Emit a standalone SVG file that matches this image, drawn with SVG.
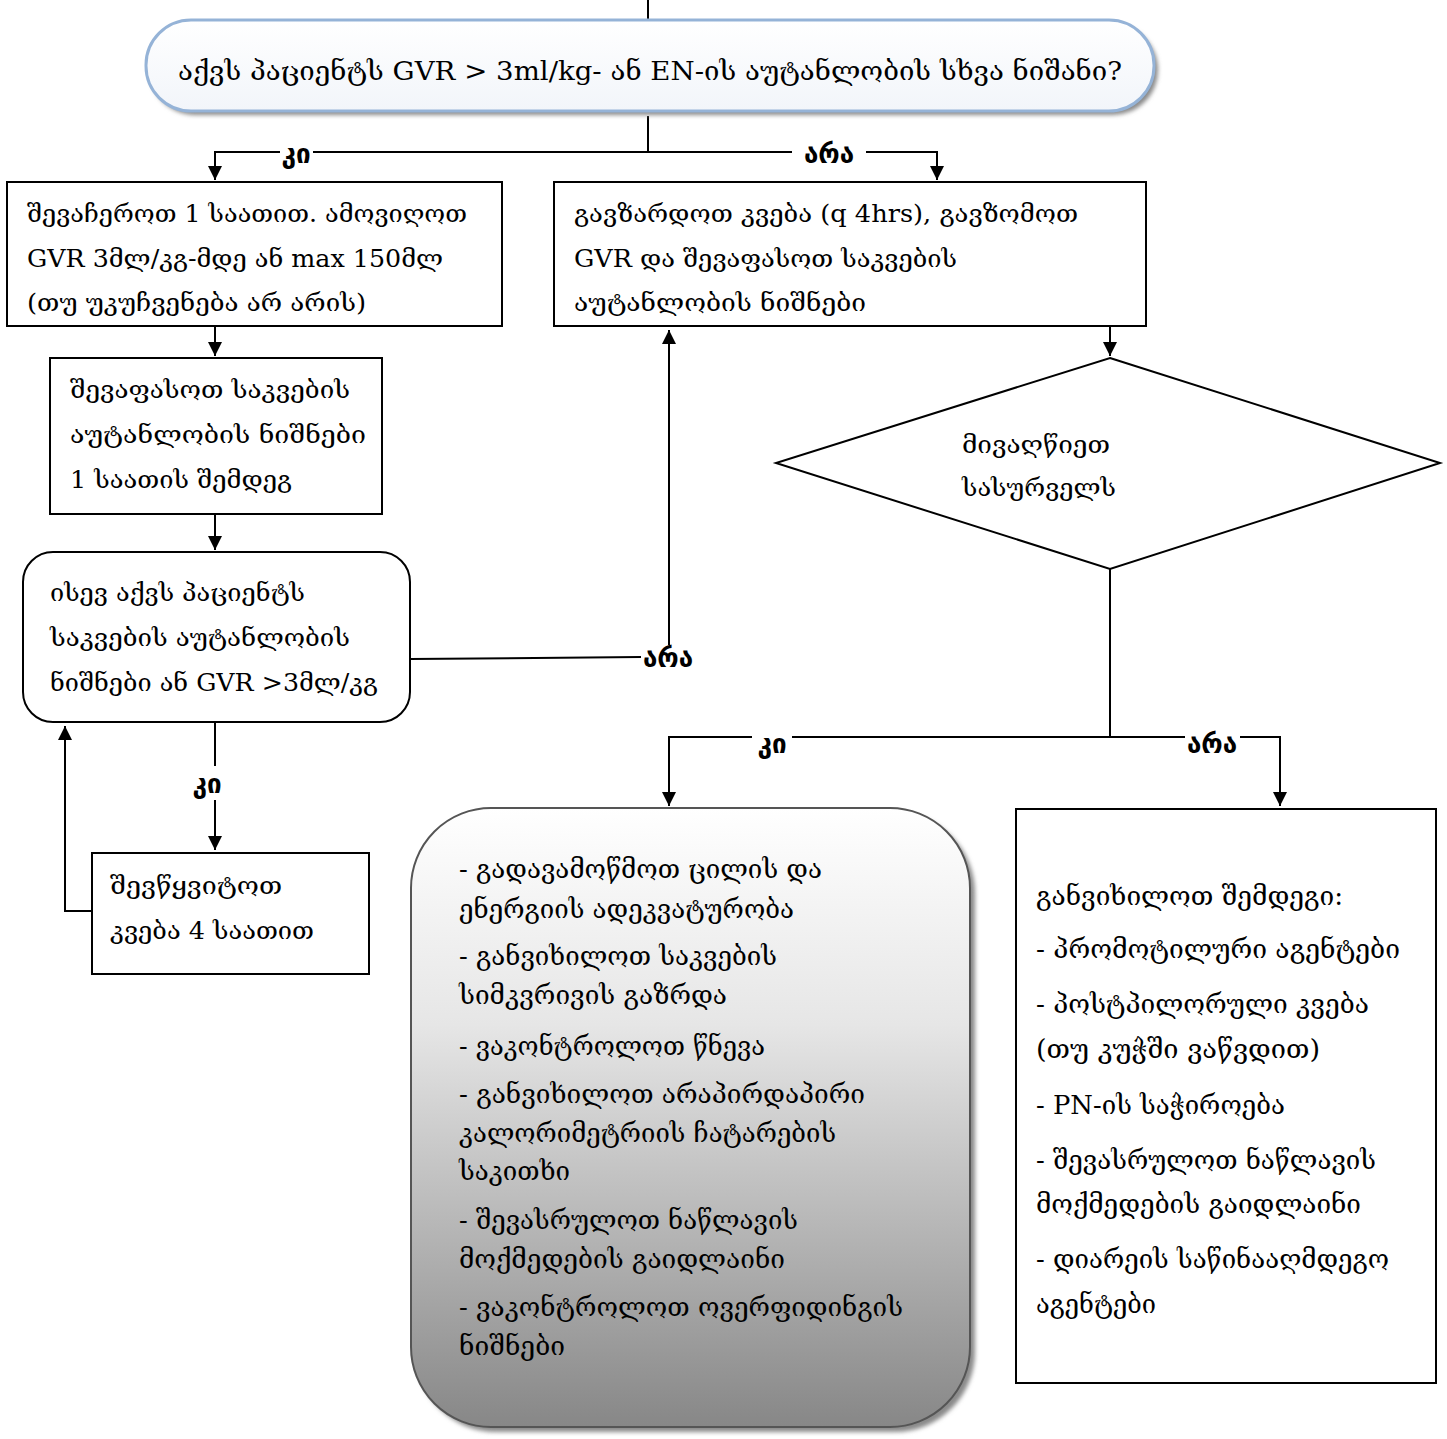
<svg xmlns="http://www.w3.org/2000/svg" width="1447" height="1439" viewBox="0 0 1447 1439">
<style>
.t{font-family:"DejaVu Serif","Liberation Serif",serif;font-size:24px;fill:#000}
.tb{font-family:"DejaVu Serif","Liberation Serif",serif;font-size:26px;fill:#000}
.lbl{font-family:"DejaVu Sans","Liberation Sans",sans-serif;font-size:26px;font-weight:bold;fill:#000}
.box{fill:#fff;stroke:#000;stroke-width:2}
.c{fill:none;stroke:#000;stroke-width:2}
</style>
<defs>
<marker id="ah" markerUnits="userSpaceOnUse" markerWidth="16" markerHeight="16" refX="14" refY="7" orient="auto">
<path d="M0,0 L14,7 L0,14 Z" fill="#000"/>
</marker>
<linearGradient id="g6" x1="0" y1="0" x2="0" y2="1">
<stop offset="0" stop-color="#ffffff"/>
<stop offset="0.35" stop-color="#e6e6e6"/>
<stop offset="1" stop-color="#878787"/>
</linearGradient>
<linearGradient id="gt" x1="0" y1="0" x2="0" y2="1">
<stop offset="0" stop-color="#ffffff"/>
<stop offset="1" stop-color="#f2f5fa"/>
</linearGradient>
<filter id="sh" x="-5%" y="-5%" width="110%" height="115%">
<feGaussianBlur stdDeviation="2"/>
</filter>
</defs>

<g id="connectors">
<path class="c" d="M648,0 V20"/>
<path class="c" d="M648,116 V152"/>
<path class="c" d="M280,152 H215 V180" marker-end="url(#ah)"/>
<path class="c" d="M313,152 H792"/>
<path class="c" d="M866,152 H937 V180" marker-end="url(#ah)"/>
<path class="c" d="M215,326 V356" marker-end="url(#ah)"/>
<path class="c" d="M215,514 V550" marker-end="url(#ah)"/>
<path class="c" d="M410,659 L641,657"/>
<path class="c" d="M669,645 V330" marker-end="url(#ah)"/>
<path class="c" d="M215,722 V766"/>
<path class="c" d="M215,800 V850" marker-end="url(#ah)"/>
<path class="c" d="M92,911 H65 V726" marker-end="url(#ah)"/>
<path class="c" d="M1110,326 V356" marker-end="url(#ah)"/>
<path class="c" d="M1110,568 V737"/>
<path class="c" d="M1110,737 H792"/>
<path class="c" d="M752,737 H669 V806" marker-end="url(#ah)"/>
<path class="c" d="M1110,737 H1185"/>
<path class="c" d="M1240,737 H1280 V806" marker-end="url(#ah)"/>
<text class="lbl" x="296" y="163" text-anchor="middle">კი</text>
<text class="lbl" x="829" y="163" text-anchor="middle">არა</text>
<text class="lbl" x="668" y="667" text-anchor="middle">არა</text>
<text class="lbl" x="207" y="793" text-anchor="middle">კი</text>
<text class="lbl" x="772" y="753" text-anchor="middle">კი</text>
<text class="lbl" x="1212" y="753" text-anchor="middle">არა</text>
</g>

<g id="start">
<rect x="150" y="25" width="1008" height="90" rx="45" fill="#8a8a8a" filter="url(#sh)"/>
<rect x="146" y="20" width="1008" height="91" rx="45" fill="url(#gt)" stroke="#95b3d7" stroke-width="3"/>
<text class="tb" x="178" y="80" textLength="944" lengthAdjust="spacingAndGlyphs" font-size="28">აქვს პაციენტს GVR &gt; 3ml/kg- ან EN-ის აუტანლობის სხვა ნიშანი?</text>
</g>

<g id="stop1h">
<rect class="box" x="7" y="182" width="495" height="144"/>
<text class="t" x="27" y="222" textLength="440" lengthAdjust="spacingAndGlyphs">შევაჩეროთ 1 საათით. ამოვიღოთ</text>
<text class="t" x="27" y="267" textLength="416" lengthAdjust="spacingAndGlyphs">GVR 3მლ/კგ-მდე ან max 150მლ</text>
<text class="t" x="27" y="311" textLength="339" lengthAdjust="spacingAndGlyphs">(თუ უკუჩვენება არ არის)</text>
</g>

<g id="increase">
<rect class="box" x="554" y="182" width="592" height="144"/>
<text class="t" x="574" y="222" textLength="504" lengthAdjust="spacingAndGlyphs">გავზარდოთ კვება (q 4hrs), გავზომოთ</text>
<text class="t" x="574" y="267" textLength="383" lengthAdjust="spacingAndGlyphs">GVR და შევაფასოთ საკვების</text>
<text class="t" x="574" y="311" textLength="292" lengthAdjust="spacingAndGlyphs">აუტანლობის ნიშნები</text>
</g>

<g id="assess">
<rect class="box" x="50" y="358" width="332" height="156"/>
<text class="t" x="70" y="398" textLength="280" lengthAdjust="spacingAndGlyphs">შევაფასოთ საკვების</text>
<text class="t" x="70" y="443" textLength="296" lengthAdjust="spacingAndGlyphs">აუტანლობის ნიშნები</text>
<text class="t" x="70" y="488" textLength="222" lengthAdjust="spacingAndGlyphs">1 საათის შემდეგ</text>
</g>

<g id="still">
<rect class="box" x="23" y="552" width="387" height="170" rx="30"/>
<text class="t" x="50" y="601" textLength="255" lengthAdjust="spacingAndGlyphs">ისევ აქვს პაციენტს</text>
<text class="t" x="50" y="646" textLength="300" lengthAdjust="spacingAndGlyphs">საკვების აუტანლობის</text>
<text class="t" x="50" y="691" textLength="328" lengthAdjust="spacingAndGlyphs">ნიშნები ან GVR &gt;3მლ/კგ</text>
</g>

<g id="stop4h">
<rect class="box" x="92" y="853" width="277" height="121"/>
<text class="t" x="110" y="894" textLength="172" lengthAdjust="spacingAndGlyphs">შევწყვიტოთ</text>
<text class="t" x="110" y="939" textLength="204" lengthAdjust="spacingAndGlyphs">კვება 4 საათით</text>
</g>

<g id="goal">
<path class="box" d="M1110,358 L1440,463 L1110,569 L776,463 Z"/>
<text class="t" x="962" y="453" textLength="148" lengthAdjust="spacingAndGlyphs">მივაღწიეთ</text>
<text class="t" x="962" y="496" textLength="154" lengthAdjust="spacingAndGlyphs">სასურველს</text>
</g>

<g id="yesbox">
<rect x="416" y="813" width="559" height="619" rx="80" fill="#8a8a8a" filter="url(#sh)"/>
<rect x="411" y="808" width="559" height="619" rx="80" fill="url(#g6)" stroke="#555" stroke-width="2"/>
<text class="tb" x="459" y="878" textLength="363" lengthAdjust="spacingAndGlyphs">- გადავამოწმოთ ცილის და</text>
<text class="tb" x="459" y="918" textLength="335" lengthAdjust="spacingAndGlyphs">ენერგიის ადეკვატურობა</text>
<text class="tb" x="459" y="965" textLength="318" lengthAdjust="spacingAndGlyphs">- განვიხილოთ საკვების</text>
<text class="tb" x="459" y="1004" textLength="268" lengthAdjust="spacingAndGlyphs">სიმკვრივის გაზრდა</text>
<text class="tb" x="459" y="1055" textLength="306" lengthAdjust="spacingAndGlyphs">- ვაკონტროლოთ წნევა</text>
<text class="tb" x="459" y="1103" textLength="406" lengthAdjust="spacingAndGlyphs">- განვიხილოთ არაპირდაპირი</text>
<text class="tb" x="459" y="1142" textLength="377" lengthAdjust="spacingAndGlyphs">კალორიმეტრიის ჩატარების</text>
<text class="tb" x="459" y="1180" textLength="111" lengthAdjust="spacingAndGlyphs">საკითხი</text>
<text class="tb" x="459" y="1229" textLength="339" lengthAdjust="spacingAndGlyphs">- შევასრულოთ ნაწლავის</text>
<text class="tb" x="459" y="1268" textLength="326" lengthAdjust="spacingAndGlyphs">მოქმედების გაიდლაინი</text>
<text class="tb" x="459" y="1316" textLength="444" lengthAdjust="spacingAndGlyphs">- ვაკონტროლოთ ოვერფიდინგის</text>
<text class="tb" x="459" y="1355" textLength="106" lengthAdjust="spacingAndGlyphs">ნიშნები</text>
</g>

<g id="nobox">
<rect class="box" x="1016" y="809" width="420" height="574"/>
<text class="tb" x="1036" y="905" textLength="307" lengthAdjust="spacingAndGlyphs">განვიხილოთ შემდეგი:</text>
<text class="tb" x="1036" y="958" textLength="364" lengthAdjust="spacingAndGlyphs">- პრომოტილური აგენტები</text>
<text class="tb" x="1036" y="1013" textLength="333" lengthAdjust="spacingAndGlyphs">- პოსტპილორული კვება</text>
<text class="tb" x="1036" y="1058" textLength="284" lengthAdjust="spacingAndGlyphs">(თუ კუჭში ვაწვდით)</text>
<text class="tb" x="1036" y="1114" textLength="249" lengthAdjust="spacingAndGlyphs">- PN-ის საჭიროება</text>
<text class="tb" x="1036" y="1169" textLength="340" lengthAdjust="spacingAndGlyphs">- შევასრულოთ ნაწლავის</text>
<text class="tb" x="1036" y="1213" textLength="325" lengthAdjust="spacingAndGlyphs">მოქმედების გაიდლაინი</text>
<text class="tb" x="1036" y="1268" textLength="353" lengthAdjust="spacingAndGlyphs">- დიარეის საწინააღმდეგო</text>
<text class="tb" x="1036" y="1313" textLength="120" lengthAdjust="spacingAndGlyphs">აგენტები</text>
</g>
</svg>
